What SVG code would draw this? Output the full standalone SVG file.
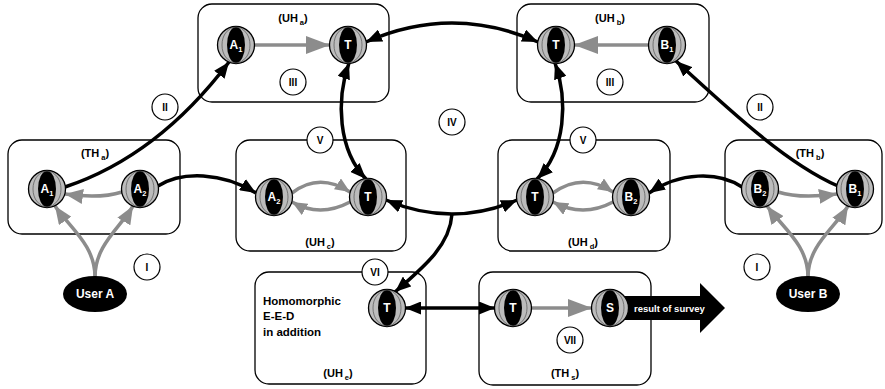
<svg xmlns="http://www.w3.org/2000/svg" xmlns:xlink="http://www.w3.org/1999/xlink" width="885" height="389" viewBox="0 0 885 389">
<style>
text{font-family:"Liberation Sans",Arial,sans-serif;font-weight:bold}
.box{fill:#fff;stroke:#000;stroke-width:1.3}
.bl{font-size:11px;fill:#000;text-anchor:middle}
.nl{font-size:12px;fill:#fff;text-anchor:middle}
.rc{fill:#fff;stroke:#000;stroke-width:1.2}
.rn{font-size:10px;fill:#000;text-anchor:middle}
.k{fill:none;stroke:#000;stroke-width:3.5}
.g{fill:none;stroke:#8c8c8c;stroke-width:3.5}
.txt{font-size:11.5px;fill:#000}
</style>
<defs>
<marker id="ah" viewBox="0 0 16 13" refX="16" refY="6.5" markerWidth="16" markerHeight="13" markerUnits="userSpaceOnUse" orient="auto-start-reverse"><path d="M0,0 L16,6.5 L0,13 z" fill="#000"/></marker>
<marker id="gh" viewBox="0 0 18 15" refX="18" refY="7.5" markerWidth="18" markerHeight="15" markerUnits="userSpaceOnUse" orient="auto"><path d="M0,0 L18,7.5 L0,15 z" fill="#8c8c8c"/></marker>
<marker id="gH" viewBox="0 0 24 18" refX="24" refY="9" markerWidth="24" markerHeight="18" markerUnits="userSpaceOnUse" orient="auto"><path d="M0,0 L24,9 L0,18 z" fill="#8c8c8c"/></marker>
<marker id="gs" viewBox="0 0 15 13" refX="15" refY="6.5" markerWidth="15" markerHeight="13" markerUnits="userSpaceOnUse" orient="auto"><path d="M0,0 L15,6.5 L0,13 z" fill="#8c8c8c"/></marker>
<g id="sph">
<circle r="18.5" fill="#bcbcbc" stroke="#000" stroke-width="1.3"/>
<ellipse rx="9" ry="18" fill="#000"/>
<path d="M0,-18 A14,18 0 0,0 0,18 M0,-18 A14,18 0 0,1 0,18" fill="none" stroke="#555" stroke-width="0.7"/>
</g>
</defs>
<rect width="885" height="389" fill="#fff"/>

<g id="boxes">
<rect class="box" x="198" y="4" width="191" height="98" rx="14"/>
<rect class="box" x="517" y="4" width="192" height="98" rx="14"/>
<rect class="box" x="8" y="140" width="172" height="94" rx="14"/>
<rect class="box" x="236" y="140" width="170" height="111" rx="14"/>
<rect class="box" x="498" y="140" width="172" height="111" rx="14"/>
<rect class="box" x="725" y="140" width="157" height="94" rx="14"/>
<rect class="box" x="255" y="272" width="171" height="112" rx="14"/>
<rect class="box" x="479" y="272" width="172" height="113" rx="14"/>
<text class="bl" x="293" y="22">(UH<tspan font-size="7.5" dx="2" dy="3">a</tspan><tspan dy="-3">)</tspan></text>
<text class="bl" x="610" y="22">(UH<tspan font-size="7.5" dx="2" dy="3">b</tspan><tspan dy="-3">)</tspan></text>
<text class="bl" x="95" y="157">(TH<tspan font-size="7.5" dx="2" dy="3">a</tspan><tspan dy="-3">)</tspan></text>
<text class="bl" x="810" y="157">(TH<tspan font-size="7.5" dx="2" dy="3">b</tspan><tspan dy="-3">)</tspan></text>
<text class="bl" x="320" y="246">(UH<tspan font-size="7.5" dx="2" dy="3">c</tspan><tspan dy="-3">)</tspan></text>
<text class="bl" x="583" y="246">(UH<tspan font-size="7.5" dx="2" dy="3">d</tspan><tspan dy="-3">)</tspan></text>
<text class="bl" x="338" y="377">(UH<tspan font-size="7.5" dx="2" dy="3">e</tspan><tspan dy="-3">)</tspan></text>
<text class="bl" x="565" y="377">(TH<tspan font-size="7.5" dx="2" dy="3">s</tspan><tspan dy="-3">)</tspan></text>
<text class="txt" x="263" y="305">Homomorphic</text>
<text class="txt" x="263" y="320">E-E-D</text>
<text class="txt" x="263" y="336">in addition</text>
</g>

<g id="connectors">
<path class="k" d="M65,187 C110,172 170,140 229,62" marker-end="url(#ah)"/>
<path class="k" d="M158,186 C182,171 222,172 256,193" marker-end="url(#ah)"/>
<path class="k" d="M742,187 C718,171 680,172 649,193" marker-end="url(#ah)"/>
<path class="k" d="M838,186 C790,165 740,120 676,61" marker-end="url(#ah)"/>
<path class="k" d="M366,42 Q452,4 538,42" marker-start="url(#ah)" marker-end="url(#ah)"/>
<path class="k" d="M386,200 Q452,228 517,200" marker-start="url(#ah)" marker-end="url(#ah)"/>
<path class="k" d="M349,63 C336,100 338,150 366,179" marker-start="url(#ah)" marker-end="url(#ah)"/>
<path class="k" d="M555,63 C568,100 566,150 537,179" marker-start="url(#ah)" marker-end="url(#ah)"/>
<path class="k" d="M452,214 C450,245 425,266 395,292" marker-end="url(#ah)"/>
<path class="k" d="M405,308 L495,308" marker-start="url(#ah)" marker-end="url(#ah)"/>
<path class="g" d="M254,45 L330,45" marker-end="url(#gH)"/>
<path class="g" d="M649,45 L574,45" marker-end="url(#gH)"/>
<path class="g" d="M531,308 L592,308" marker-end="url(#gH)"/>
<path class="g" d="M122,192 Q100,199 65,194" marker-end="url(#gh)"/>
<path class="g" d="M778,192 Q800,199 837,194" marker-end="url(#gh)"/>
<path class="g" d="M95,277 C95,245 70,228 55,206" marker-end="url(#gh)"/>
<path class="g" d="M95,277 C95,245 120,228 133,206" marker-end="url(#gh)"/>
<path class="g" d="M808,277 C808,245 783,228 767,206" marker-end="url(#gh)"/>
<path class="g" d="M808,277 C808,245 835,228 848,206" marker-end="url(#gh)"/>
<path class="g" d="M292,193 Q319,172 350,192" marker-end="url(#gs)"/>
<path class="g" d="M350,202 Q320,218 292,202" marker-end="url(#gs)"/>
<path class="g" d="M553,193 Q582,172 613,192" marker-end="url(#gs)"/>
<path class="g" d="M613,202 Q583,218 553,202" marker-end="url(#gs)"/>
<polygon points="612,296 700,296 700,283 725,308 700,333 700,320 612,320" fill="#000"/>
<text x="634" y="311.5" font-size="9.5" fill="#fff">result of survey</text>
</g>

<g id="roman">
<g id="r-II-a"><circle class="rc" cx="165" cy="107" r="13"/><text class="rn" x="165" y="110.5">II</text></g>
<g id="r-II-b"><circle class="rc" cx="760" cy="107" r="13"/><text class="rn" x="760" y="110.5">II</text></g>
<g id="r-III-a"><circle class="rc" cx="293" cy="82" r="13"/><text class="rn" x="293" y="85.5">III</text></g>
<g id="r-III-b"><circle class="rc" cx="610" cy="82" r="13"/><text class="rn" x="610" y="85.5">III</text></g>
<g id="r-IV"><circle class="rc" cx="452" cy="122" r="13"/><text class="rn" x="452" y="125.5">IV</text></g>
<g id="r-V-a"><circle class="rc" cx="320" cy="140" r="13"/><text class="rn" x="320" y="143.5">V</text></g>
<g id="r-V-b"><circle class="rc" cx="583" cy="140" r="13"/><text class="rn" x="583" y="143.5">V</text></g>
<g id="r-VI"><circle class="rc" cx="375" cy="272" r="13"/><text class="rn" x="375" y="275.5">VI</text></g>
<g id="r-VII"><circle class="rc" cx="570" cy="340" r="13"/><text class="rn" x="570" y="343.5">VII</text></g>
<g id="r-I-a"><circle class="rc" cx="147" cy="267" r="13"/><text class="rn" x="147" y="270.5">I</text></g>
<g id="r-I-b"><circle class="rc" cx="757" cy="267" r="13"/><text class="rn" x="757" y="270.5">I</text></g>
</g>

<g id="uha-a1"><use xlink:href="#sph" href="#sph" x="236" y="45"/><text class="nl" x="236" y="49">A<tspan font-size="7.5" dy="3">1</tspan></text></g>
<g id="uha-t"><use xlink:href="#sph" href="#sph" x="348" y="45"/><text class="nl" x="348" y="49">T</text></g>
<g id="uhb-t"><use xlink:href="#sph" href="#sph" x="556" y="45"/><text class="nl" x="556" y="49">T</text></g>
<g id="uhb-b1"><use xlink:href="#sph" href="#sph" x="667" y="45"/><text class="nl" x="667" y="49">B<tspan font-size="7.5" dy="3">1</tspan></text></g>
<g id="tha-a1"><use xlink:href="#sph" href="#sph" x="47" y="189"/><text class="nl" x="47" y="193">A<tspan font-size="7.5" dy="3">1</tspan></text></g>
<g id="tha-a2"><use xlink:href="#sph" href="#sph" x="140" y="189"/><text class="nl" x="140" y="193">A<tspan font-size="7.5" dy="3">2</tspan></text></g>
<g id="uhc-a2"><use xlink:href="#sph" href="#sph" x="274" y="197"/><text class="nl" x="274" y="201">A<tspan font-size="7.5" dy="3">2</tspan></text></g>
<g id="uhc-t"><use xlink:href="#sph" href="#sph" x="368" y="197"/><text class="nl" x="368" y="201">T</text></g>
<g id="uhd-t"><use xlink:href="#sph" href="#sph" x="535" y="197"/><text class="nl" x="535" y="201">T</text></g>
<g id="uhd-b2"><use xlink:href="#sph" href="#sph" x="631" y="197"/><text class="nl" x="631" y="201">B<tspan font-size="7.5" dy="3">2</tspan></text></g>
<g id="thb-b2"><use xlink:href="#sph" href="#sph" x="760" y="189"/><text class="nl" x="760" y="193">B<tspan font-size="7.5" dy="3">2</tspan></text></g>
<g id="thb-b1"><use xlink:href="#sph" href="#sph" x="855" y="189"/><text class="nl" x="855" y="193">B<tspan font-size="7.5" dy="3">1</tspan></text></g>
<g id="uhe-t"><use xlink:href="#sph" href="#sph" x="387" y="308"/><text class="nl" x="387" y="312">T</text></g>
<g id="ths-t"><use xlink:href="#sph" href="#sph" x="513" y="308"/><text class="nl" x="513" y="312">T</text></g>
<g id="ths-s"><use xlink:href="#sph" href="#sph" x="610" y="308"/><text class="nl" x="610" y="312">S</text></g>
<g id="user-a"><ellipse cx="95" cy="294" rx="32" ry="18" fill="#000"/><text class="nl" x="95" y="298">User A</text></g>
<g id="user-b"><ellipse cx="808" cy="294" rx="32" ry="18" fill="#000"/><text class="nl" x="808" y="298">User B</text></g>
</svg>
